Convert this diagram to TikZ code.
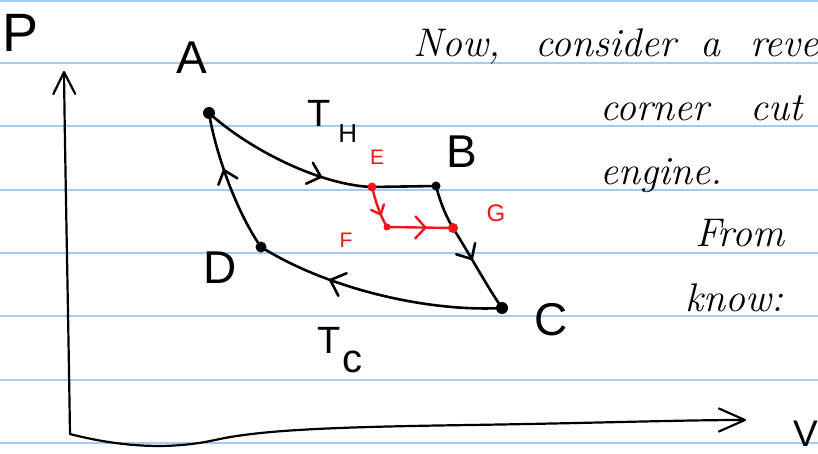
\documentclass[tikz,border=0pt]{standalone}
\usepackage{fontspec}
\setsansfont{Liberation Sans}
\usetikzlibrary{arrows.meta,decorations.markings}
\definecolor{rulebl}{RGB}{165,203,245}
\definecolor{penred}{RGB}{238,22,22}
\newcommand{\fsz}[1]{\fontsize{#1}{#1}\selectfont}
\tikzset{
  rule/.style={rulebl, line width=2pt},
  pen/.style={line width=2.6pt, line cap=round, line join=round},
  redpen/.style={pen, penred, line width=2.4pt},
  axis/.style={line width=2.2pt, line cap=round, line join=round},
  midarrow/.style n args={3}{postaction={decorate},
    decoration={markings, mark=at position #1 with {\arrow{Straight Barb[length=#2,width=#3,round]}}}},
  lbl/.style={inner sep=0pt, font=\sffamily\fsz{46}},
  redlbl/.style={inner sep=0pt, text=penred, font=\sffamily\fsz{21}},
  hand/.style={inner sep=0pt, anchor=base west, font=\itshape\fsz{40}}
}
\begin{document}
\begin{tikzpicture}[x=1pt, y=-1pt]
        \useasboundingbox (0,0) rectangle (818,454);
        \fill[white] (0,0) rectangle (818,454);
        %righe
        \foreach \ry in {1,63,126,190,253,316,380,443}
            \draw[rule] (0,\ry) -- (818,\ry);
        %assi
        \coordinate (O) at (70,434);
        \coordinate (Ptop) at (64,71);
        \coordinate (Vend) at (746,420);
        \draw[axis, -{Straight Barb[length=22pt,width=22pt,round]}] (O) .. controls (68,300) and (65,160) .. (Ptop);
        \draw[axis, -{Straight Barb[length=26pt,width=23pt,round]}] (O) .. controls (120,447) and (170,450) .. (215,440)
                                   .. controls (260,430) and (330,427) .. (470,425)
                                   .. controls (600,423) and (680,420) .. (Vend);
        %punti del ciclo
        \coordinate (A) at (209,113);
        \coordinate (B) at (436,186);
        \coordinate (C) at (502,308);
        \coordinate (D) at (261,247);
        \coordinate (E) at (372,187);
        \coordinate (F) at (387,227);
        \coordinate (G) at (453,228);
        %ciclo
        \draw[pen, midarrow={0.72}{12pt}{22pt}] (A) .. controls (250,150) and (320,185) .. (E);
        \draw[pen] (E) -- (B);
        \draw[pen] (B) .. controls (441,205) and (447,218) .. (G);
        \draw[pen, midarrow={0.4}{12pt}{22pt}] (G) .. controls (470,255) and (488,288) .. (C);
        \draw[pen, midarrow={0.7}{13pt}{24pt}] (C) .. controls (430,312) and (330,290) .. (D);
        \draw[pen, midarrow={0.6}{12pt}{20pt}] (D) .. controls (235,210) and (215,150) .. (A);
        %taglio
        \draw[redpen, midarrow={0.7}{8pt}{14pt}] (E) .. controls (376,203) and (380,215) .. (F);
        \draw[redpen, midarrow={0.6}{10pt}{22pt}] (F) -- (G);
        %pallini
        \fill (A) circle (6pt);
        \fill (B) circle (4.5pt);
        \fill (C) circle (6pt);
        \fill (D) circle (5.5pt);
        \fill[penred] (E) circle (4.5pt);
        \fill[penred] (F) circle (3.5pt);
        \fill[penred] (G) circle (5pt);
        %label
        \node[lbl, font=\sffamily\fsz{54}] (Plbl) at (21,33) {P};
        \node[lbl, anchor=north west, font=\sffamily\fsz{37}] (Vlbl) at (793,421) {V};
        \node[lbl] (Albl) at (192,58) {A};
        \node[lbl] (Blbl) at (462,152) {B};
        \node[lbl] (Clbl) at (551,320) {C};
        \node[lbl] (Dlbl) at (220,268) {D};
        \node[redlbl] (Elbl) at (377,157) {E};
        \node[redlbl] (Flbl) at (346,240) {F};
        \node[redlbl, font=\sffamily\fsz{24}] (Glbl) at (496,213) {G};
        \node[lbl, anchor=base west, font=\sffamily\fsz{38}] (TH) at (307,127) {T\kern8pt\raisebox{-16pt}{\fsz{26}H}};
        \node[lbl, anchor=base west, font=\sffamily\fsz{38}] (TC) at (317,353) {T\kern2pt\raisebox{-19pt}{\fsz{40}c}};
        %testo
        \node[hand] (w1) at (413,57) {Now,};
        \node[hand] (w2) at (535,57) {consider};
        \node[hand] (w3) at (700,57) {a};
        \node[hand] (w4) at (750,57) {reve};
        \node[hand] (w5) at (600,121) {corner};
        \node[hand] (w6) at (750,121) {cut};
        \node[hand] (w7) at (600,185) {engine.};
        \node[hand] (w8) at (695,247) {From};
        \node[hand] (w9) at (685,311) {know:};
\end{tikzpicture}
\end{document}
